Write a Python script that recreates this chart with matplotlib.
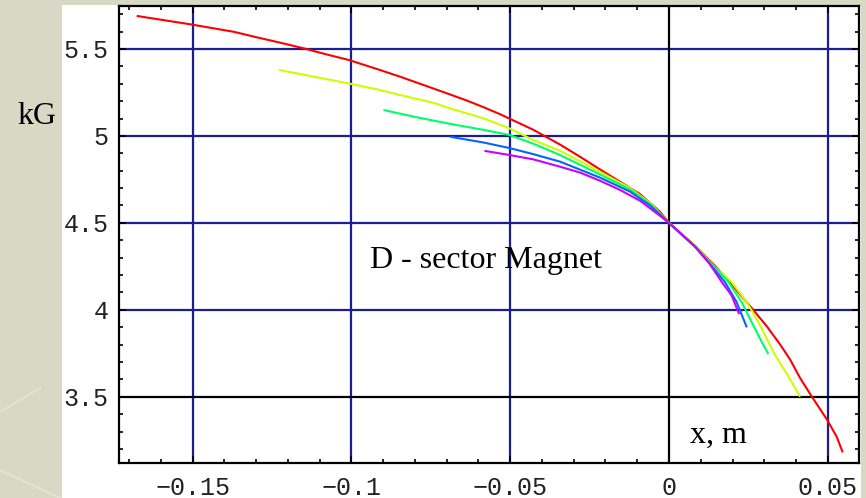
import matplotlib
matplotlib.use("Agg")
import matplotlib.pyplot as plt
from matplotlib.patches import Rectangle
from matplotlib.lines import Line2D
from matplotlib.ticker import FixedLocator, FixedFormatter, MultipleLocator

# Field profiles B(x) of the D-sector magnet, one curve per orbit set
red_x = [-0.1676, -0.1508, -0.1371, -0.1298, -0.1224, -0.1151, -0.1077, -0.1009, -0.0920,
         -0.0846, -0.0741, -0.0689, -0.0636, -0.0584, -0.0532, -0.0427,
         -0.0343, -0.0280, -0.0217, -0.0154, -0.0091, -0.0028, 0.0, 0.0083, 0.0145,
         0.0197, 0.0265, 0.0308, 0.0350, 0.0381, 0.0412, 0.0450, 0.0497, 0.0528, 0.0547]
red_y = [5.690, 5.642, 5.599, 5.567, 5.536, 5.504, 5.468, 5.437, 5.385,
         5.340, 5.272, 5.238, 5.203, 5.165, 5.125, 5.035,
         4.950, 4.880, 4.807, 4.736, 4.665, 4.563, 4.500, 4.367, 4.252,
         4.147, 4.000, 3.905, 3.800, 3.715, 3.610, 3.500, 3.370, 3.270, 3.180]

yellow_x = [-0.1228, -0.1162, -0.1077, -0.1009, -0.0920, -0.0846, -0.0741, -0.0689,
            -0.0584, -0.0502, -0.0427, -0.0343, -0.0217, -0.0123, -0.0060, 0.0, 0.0083,
            0.0145, 0.0197, 0.0245, 0.0281, 0.0313, 0.0334, 0.0375, 0.0413]
yellow_y = [5.379, 5.356, 5.326, 5.302, 5.268, 5.235, 5.190, 5.158,
            5.101, 5.043, 4.976, 4.915, 4.793, 4.700, 4.615, 4.500, 4.365,
            4.245, 4.160, 4.044, 3.930, 3.815, 3.740, 3.620, 3.500]

green_x = [-0.0899, -0.0794, -0.0689, -0.0584, -0.0502, -0.0427, -0.0343, -0.0217,
           -0.0123, -0.0060, 0.0, 0.0083, 0.0145, 0.0187, 0.0229, 0.0260, 0.0292, 0.0313]
green_y = [5.149, 5.107, 5.069, 5.035, 5.005, 4.955, 4.890, 4.778,
           4.692, 4.610, 4.500, 4.362, 4.245, 4.160, 4.044, 3.930, 3.815, 3.745]

blue_x = [-0.0689, -0.0584, -0.0502, -0.0427, -0.0343, -0.0217, -0.0123, -0.0060,
          0.0, 0.0083, 0.0134, 0.0176, 0.0213, 0.0245]
blue_y = [4.995, 4.962, 4.930, 4.895, 4.852, 4.760, 4.680, 4.600,
          4.500, 4.360, 4.252, 4.160, 4.044, 3.899]

magenta_x = [-0.0581, -0.0502, -0.0427, -0.0343, -0.0280, -0.0217, -0.0154, -0.0091,
             -0.0028, 0.0, 0.0082, 0.0124, 0.0166, 0.0197, 0.0221]
magenta_y = [4.914, 4.890, 4.865, 4.823, 4.789, 4.742, 4.689, 4.627,
             4.540, 4.500, 4.363, 4.275, 4.160, 4.083, 3.975]

series = [
    (red_x, red_y, "#ff0000"),
    (yellow_x, yellow_y, "#ccff00"),
    (green_x, green_y, "#00ff66"),
    (blue_x, blue_y, "#0066ff"),
    (magenta_x, magenta_y, "#cc00ff"),
]

x_ticks = [-0.15, -0.1, -0.05, 0.0, 0.05]
x_tick_labels = ["\u22120.15", "\u22120.1", "\u22120.05", "0", "0.05"]
y_ticks = [3.5, 4.0, 4.5, 5.0, 5.5]
y_tick_labels = ["3.5", "4", "4.5", "5", "5.5"]

grid_x = [-0.15, -0.1, -0.05, 0.05]
grid_y = [4.0, 4.5, 5.0, 5.5]
axis_x = 0.0
axis_y = 3.5

W, H = 866, 498
fig = plt.figure(figsize=(W / 100, H / 100), dpi=100, facecolor="#d8d8c4")

# slide background streaks
for (x0, y0, x1, y1) in [(0, 470, 60, 498), (0, 412, 40, 388)]:
    fig.add_artist(Line2D([x0 / W, x1 / W], [1 - y0 / H, 1 - y1 / H],
                          transform=fig.transFigure, color="#e4e4d6", lw=1.5, zorder=0))

# white plot panel
fig.add_artist(Rectangle((62 / W, 0), (861 - 62) / W, 1 - 5 / H,
                         transform=fig.transFigure, facecolor="white",
                         edgecolor="none", zorder=0.5))

left, right, top, bottom = 118.5, 859, 6, 463
ax = fig.add_axes([left / W, 1 - bottom / H, (right - left) / W, (bottom - top) / H])
ax.set_facecolor("white")
ax.set_zorder(1)

x0px, sx = 669.0, 3176.0
ax.set_xlim((left - x0px) / sx, (right - x0px) / sx)
ax.set_ylim(3.119, 5.747)

grid_color = "#1c1c96"
for gx in grid_x:
    ax.axvline(gx, color=grid_color, lw=1.6, zorder=1)
for gy in grid_y:
    ax.axhline(gy, color=grid_color, lw=1.6, zorder=1)
ax.axvline(axis_x, color="black", lw=1.6, zorder=1.5)
ax.axhline(axis_y, color="black", lw=1.6, zorder=1.5)

for xs, ys, c in series:
    ax.plot(xs, ys, color=c, lw=1.5, zorder=3, solid_capstyle="butt")

ax.xaxis.set_major_locator(FixedLocator(x_ticks))
ax.xaxis.set_major_formatter(FixedFormatter(x_tick_labels))
ax.yaxis.set_major_locator(FixedLocator(y_ticks))
ax.yaxis.set_major_formatter(FixedFormatter(y_tick_labels))
ax.xaxis.set_minor_locator(MultipleLocator(0.01))
ax.yaxis.set_minor_locator(MultipleLocator(0.1))

ax.tick_params(which="both", direction="in", top=True, right=True, color="black", width=1.2)
ax.tick_params(which="major", length=5)
ax.tick_params(which="minor", length=3)
ax.tick_params(axis="x", which="major", pad=9)
ax.tick_params(axis="y", which="major", pad=7)
for lab in ax.get_xticklabels() + ax.get_yticklabels():
    lab.set_fontfamily("Liberation Mono")
    lab.set_fontsize(18)
    lab.set_color("#222222")

for sp in ax.spines.values():
    sp.set_linewidth(1.6)
    sp.set_color("black")

serif = "Liberation Serif"
fig.text(17 / W, 1 - 124 / H, "kG", fontfamily=serif, fontsize=23, va="baseline", ha="left")
fig.text(370 / W, 1 - 268 / H, "D - sector Magnet", fontfamily=serif, fontsize=23,
         va="baseline", ha="left", zorder=5)
fig.text(690 / W, 1 - 443 / H, "x, m", fontfamily=serif, fontsize=23,
         va="baseline", ha="left", zorder=5)

fig.savefig("out.png", dpi=100, facecolor=fig.get_facecolor())
